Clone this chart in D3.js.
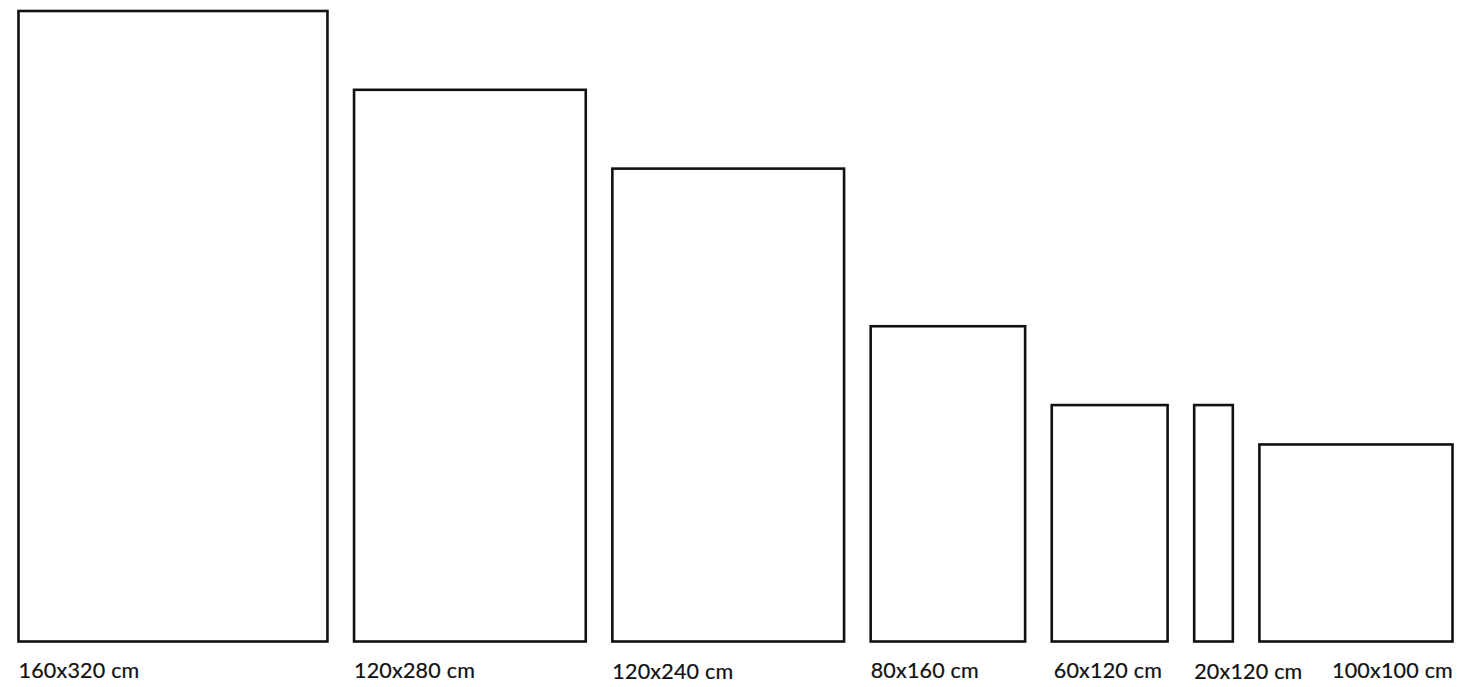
<!DOCTYPE html>
<html>
<head>
<meta charset="utf-8">
<script src="https://cdn.jsdelivr.net/npm/d3@7"></script>
<style>
  html, body { margin: 0; padding: 0; background: #fff; }
  svg { display: block; }
</style>
</head>
<body>
<svg id="chart" width="1458" height="687"></svg>
<script>
// Data: tile sizes (cm)
const labels  = ["160x320 cm", "120x280 cm", "120x240 cm", "80x160 cm", "60x120 cm", "20x120 cm", "100x100 cm"];
const widthsCm  = [160, 120, 120, 80, 60, 20, 100];
const heightsCm = [320, 280, 240, 160, 120, 120, 100];

const svg = d3.select("#chart");
const left = 18.5, right = 1452.5, gap = 26.6;
const totalCm = d3.sum(widthsCm);
const pxPerCm = (right - left - gap * (widthsCm.length - 1)) / totalCm;

const w = d3.scaleLinear().domain([0, totalCm]).range([0, totalCm * pxPerCm]);
const y = d3.scaleLinear().domain([0, 320]).range([641.5, 11]);

const data = labels.map((l, i) => ({ label: l, wc: widthsCm[i], hc: heightsCm[i] }));
let cursor = left;
data.forEach((d, i) => {
  d.x = cursor;
  d.width = w(d.wc);
  cursor += d.width + gap;
});

svg.selectAll("rect.tile").data(data).join("rect")
  .attr("class", "tile")
  .attr("x", d => d.x)
  .attr("y", d => y(d.hc))
  .attr("width", d => d.width)
  .attr("height", d => y(0) - y(d.hc))
  .attr("fill", "none")
  .attr("stroke", "#111")
  .attr("stroke-width", 2.6);

const last = data.length - 1;
svg.selectAll("text.lbl").data(data).join("text")
  .attr("class", "lbl")
  .attr("x", (d, i) => i === last ? d.x + d.width + 0.5 : d.x + (i === 4 ? 2 : 0))
  .attr("y", (d, i) => (i === 2 || i === 5) ? 679 : 677.5)
  .attr("text-anchor", (d, i) => i === last ? "end" : "start")
  .attr("font-family", "Lato, 'Noto Sans', sans-serif")
  .attr("font-size", 21.5)
  .attr("letter-spacing", 0.2)
  .attr("fill", "#111")
  .attr("stroke", "#111")
  .attr("stroke-width", 0.2)
  .text(d => d.label);
</script>
</body>
</html>
